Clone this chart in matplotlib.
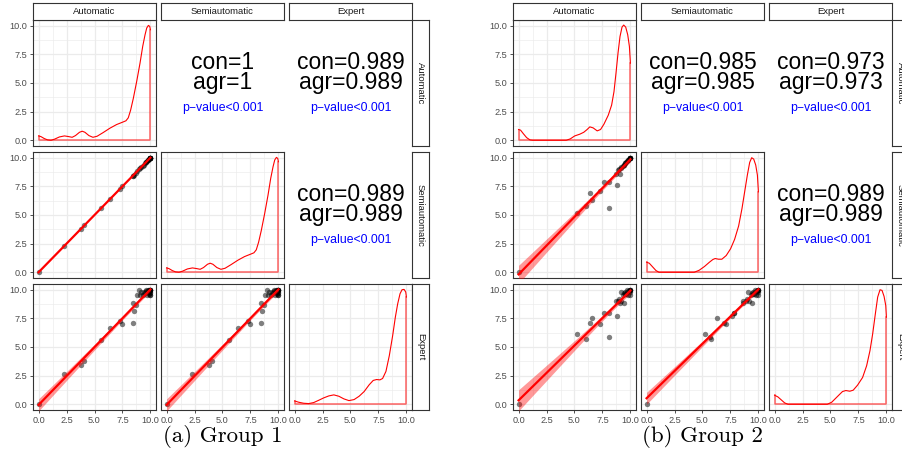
import numpy as np
import matplotlib
matplotlib.use("Agg")
import matplotlib.pyplot as plt

# ---- data -------------------------------------------------------------
variables = ["Automatic", "Semiautomatic", "Expert"]
captions = ["(a) Group 1", "(b) Group 2"]
ticks = [0, 2.5, 5, 7.5, 10]
tick_labels = ["0.0", "2.5", "5.0", "7.5", "10.0"]

# group 1 paired scores
g1_auto = [0, 2.3, 3.8, 4.1, 5.6, 6.4, 7.3, 7.5, 8.4, 8.4, 8.5, 8.7, 8.8, 9.0, 9.1, 9.2,
           9.3, 9.4, 9.5, 9.6, 9.7, 9.8, 9.9, 10, 10, 10, 10, 10, 10, 10, 10, 10, 9.8, 9.9, 9.6]
g1_semi = list(g1_auto)
g1_expert = [0, 2.6, 3.4, 3.8, 5.6, 6.7, 7.3, 7.0, 7.1, 8.8, 8.1, 8.7, 9.5, 10, 9.5, 9.8,
             9.5, 9.8, 9.7, 10, 9.5, 9.8, 10, 10, 10, 9.5, 9.7, 10, 9.8, 10, 9.5, 10, 10, 9.6, 9.9]

# group 2 paired scores
g2_auto = [0, 5.2, 6.0, 6.4, 6.55, 7.3, 7.65, 8.1, 8.1, 8.8, 8.7, 9.1, 8.9, 9.0, 9.2, 9.2,
           9.3, 9.4, 9.5, 9.6, 9.7, 9.8, 9.9, 10, 10, 10, 10, 10, 9.5, 9.8, 10, 9.4]
g2_semi = [0, 5.2, 5.8, 6.9, 6.3, 7.1, 7.85, 7.85, 5.65, 7.6, 8.6, 8.6, 8.9, 9.0, 9.1, 9.2,
           9.3, 9.4, 9.5, 9.6, 9.7, 9.8, 9.9, 10, 10, 10, 10, 10, 9.5, 9.8, 10, 9.4]
g2_expert = [0, 6.15, 5.7, 7.1, 7.5, 7.05, 8.0, 8.0, 5.85, 7.75, 9.0, 8.8, 9.0, 9.2, 9.8, 9.0,
             9.5, 8.8, 9.8, 9.6, 10, 9.5, 9.9, 10, 10, 9.5, 10, 9.8, 9.6, 9.9, 10, 9.7]

# diagonal density outlines (panel y scale)
g1_auto_dx = [0, .21, .51, .81, 1.11, 1.41, 1.86, 2.31, 2.70, 3.0, 3.30, 3.66, 3.90, 4.14, 4.50,
              4.86, 5.23, 5.77, 6.37, 6.97, 7.51, 7.81, 8.02, 8.23, 8.47, 8.77, 9.07, 9.31,
              9.52, 9.67, 9.82, 9.94, 10]
g1_auto_dy = [.38, .32, .15, .03, 0, .09, .29, .38, .32, .26, .41, .70, .79, .70, .41, .26, .35,
              .67, 1.05, 1.37, 1.58, 1.70, 1.96, 2.63, 3.65, 5.12, 6.73, 8.19, 9.21, 9.80,
              10.03, 9.94, 9.65]
g1_semi_dx = list(g1_auto_dx)
g1_semi_dy = list(g1_auto_dy)
g1_expert_dx = [0, .36, .81, 1.26, 1.71, 2.16, 2.61, 3.06, 3.51, 3.96, 4.41, 4.86, 5.32, 5.77,
                6.22, 6.67, 7.03, 7.33, 7.63, 7.87, 8.17, 8.47, 8.77, 9.01, 9.22, 9.43, 9.61,
                9.79, 9.94, 10]
g1_expert_dy = [.29, .18, .09, .06, .15, .35, .56, .73, .82, .70, .47, .32, .41, .70, 1.11, 1.70,
                2.08, 2.16, 2.13, 2.25, 2.87, 4.24, 5.99, 7.60, 8.77, 9.65, 10.0, 10.03, 9.80, 9.36]
g2_auto_dx = [0, .18, .42, .72, 1.02, 1.26, 4.26, 4.62, 5.02, 5.47, 5.83, 6.13, 6.37, 6.67, 7.03,
              7.33, 7.63, 8.02, 8.32, 8.53, 8.71, 8.89, 9.07, 9.25, 9.40, 9.58, 9.76, 9.91, 10]
g2_auto_dy = [.94, .88, .58, .23, .03, 0, 0, .12, .38, .53, .70, .94, 1.17, 1.08, .82, .94, 1.40,
              2.19, 3.07, 4.24, 5.85, 7.60, 9.06, 9.88, 10.06, 9.88, 9.21, 8.19, 6.73]
g2_semi_dx = [0, .24, .54, .84, 1.11, 4.26, 4.71, 5.17, 5.62, 5.92, 6.13, 6.43, 6.73, 7.12, 7.51,
              7.87, 8.23, 8.53, 8.77, 9.01, 9.22, 9.40, 9.58, 9.76, 9.91, 10]
g2_semi_dy = [.88, .79, .47, .15, 0, 0, .18, .50, .88, 1.11, 1.20, 1.14, 1.14, 1.46, 2.05, 2.87,
              4.04, 5.56, 7.02, 8.48, 9.59, 10.0, 9.88, 9.36, 8.48, 7.02]
g2_expert_dx = [0, .30, .60, .90, 1.20, 4.71, 5.11, 5.47, 5.83, 6.07, 6.37, 6.73, 7.03, 7.42,
                7.87, 8.23, 8.53, 8.77, 9.01, 9.22, 9.43, 9.61, 9.79, 9.94, 10]
g2_expert_dy = [.79, .64, .38, .12, 0, 0, .18, .53, .88, 1.11, 1.20, 1.14, 1.23, 1.67, 2.34, 3.36,
                4.68, 6.14, 7.89, 9.36, 10.0, 9.94, 9.42, 8.63, 7.60]

# upper panel labels (row, col) -> value
g1_con = {(0, 1): "1", (0, 2): "0.989", (1, 2): "0.989"}
g2_con = {(0, 1): "0.985", (0, 2): "0.973", (1, 2): "0.989"}

groups = [
    dict(data=[g1_auto, g1_semi, g1_expert],
         dens=[(g1_auto_dx, g1_auto_dy), (g1_semi_dx, g1_semi_dy), (g1_expert_dx, g1_expert_dy)],
         con=g1_con, left=33),
    dict(data=[g2_auto, g2_semi, g2_expert],
         dens=[(g2_auto_dx, g2_auto_dy), (g2_semi_dx, g2_semi_dy), (g2_expert_dx, g2_expert_dy)],
         con=g2_con, left=513),
]

# ---- layout ----------------------------------------------------------
W, H = 903, 454
plt.rcParams["font.family"] = ["Liberation Sans", "DejaVu Sans"]
fig = plt.figure(figsize=(W / 100, H / 100), dpi=100)

PW, PH = 123, 126
COL_STEP, ROW_STEP = 128, 132
TOP = 20
EDGE = "#333333"
GRID = "#EBEBEB"


def px_axes(x0, y0, w, h):
    return fig.add_axes([x0 / W, 1 - (y0 + h) / H, w / W, h / H])


def strip(x0, y0, w, h, label, rot):
    ax = px_axes(x0, y0, w, h)
    ax.set_xticks([])
    ax.set_yticks([])
    for s in ax.spines.values():
        s.set_color(EDGE)
        s.set_linewidth(0.8)
    ax.text(0.5, 0.5, label, rotation=rot, ha="center", va="center",
            fontsize=6.8, color="#1A1A1A", transform=ax.transAxes)


def style_panel(ax, show_x, show_y):
    ax.set_xlim(-0.5, 10.5)
    ax.set_ylim(-0.5, 10.5)
    ax.set_xticks(ticks)
    ax.set_yticks(ticks)
    ax.set_xticks([1.25, 3.75, 6.25, 8.75], minor=True)
    ax.set_yticks([1.25, 3.75, 6.25, 8.75], minor=True)
    ax.grid(True, which="major", color=GRID, lw=0.9)
    ax.grid(True, which="minor", color=GRID, lw=0.45)
    ax.set_axisbelow(True)
    ax.set_xticklabels(tick_labels if show_x else [])
    ax.set_yticklabels(tick_labels if show_y else [])
    ax.tick_params(which="minor", length=0)
    ax.tick_params(axis="x", which="major", length=2.5 if show_x else 0, width=0.6,
                   color=EDGE, labelsize=6.6, labelcolor="#4D4D4D", pad=1.5)
    ax.tick_params(axis="y", which="major", length=2.5 if show_y else 0, width=0.6,
                   color=EDGE, labelsize=6.6, labelcolor="#4D4D4D", pad=1.5)
    for s in ax.spines.values():
        s.set_color(EDGE)
        s.set_linewidth(0.8)


for gi, g in enumerate(groups):
    left = g["left"]
    for i in range(3):
        for j in range(3):
            x0 = left + j * COL_STEP
            y0 = TOP + i * ROW_STEP
            ax = px_axes(x0, y0, PW, PH)
            if i < j:
                ax.axis("off")
                v = g["con"][(i, j)]
                ax.text(0.5, 0.665, "con=" + v, ha="center", va="center", fontsize=16.5,
                        color="black", transform=ax.transAxes)
                ax.text(0.5, 0.5, "agr=" + v, ha="center", va="center", fontsize=16.5,
                        color="black", transform=ax.transAxes)
                ax.text(0.5, 0.30, "p\u2212value<0.001", ha="center", va="center",
                        fontsize=8.8, color="#0000FF", transform=ax.transAxes)
                continue
            style_panel(ax, i == 2, j == 0)
            if i == j:
                dx, dy = g["dens"][i]
                ax.plot(dx, dy, color="red", lw=0.8, zorder=3)
                ax.plot([dx[-1], dx[-1], dx[0], dx[0]], [dy[-1], 0, 0, dy[0]],
                        color="red", alpha=0.6, lw=1.1, zorder=3)
            else:
                x = np.array(g["data"][j], dtype=float)
                y = np.array(g["data"][i], dtype=float)
                ax.scatter(x, y, s=15, color="black", alpha=0.5, lw=0, zorder=3)
                # linear fit with 95% confidence band
                n = len(x)
                b, a = np.polyfit(x, y, 1)
                xs = np.linspace(x.min(), x.max(), 80)
                resid = y - (a + b * x)
                s_err = np.sqrt(np.sum(resid ** 2) / (n - 2))
                se = s_err * np.sqrt(1 / n + (xs - x.mean()) ** 2 / np.sum((x - x.mean()) ** 2))
                fit = a + b * xs
                ax.fill_between(xs, fit - 2.03 * se, fit + 2.03 * se, color="red",
                                alpha=0.4, lw=0, zorder=4)
                ax.plot(xs, fit, color="red", lw=1.6, zorder=5)
    # column strips
    for j in range(3):
        strip(left + j * COL_STEP, 3, PW, 17, variables[j], 0)
    # row strips
    for i in range(3):
        strip(left + 2 * COL_STEP + PW, TOP + i * ROW_STEP, 17, PH, variables[i], 270)
    cx = (left + (left + 2 * COL_STEP + PW)) / 2
    fig.text(cx / W, 1 - 437 / H, captions[gi], ha="center", va="center",
             fontsize=16.5, family="cmr10")

fig.savefig("out.png", dpi=100)
